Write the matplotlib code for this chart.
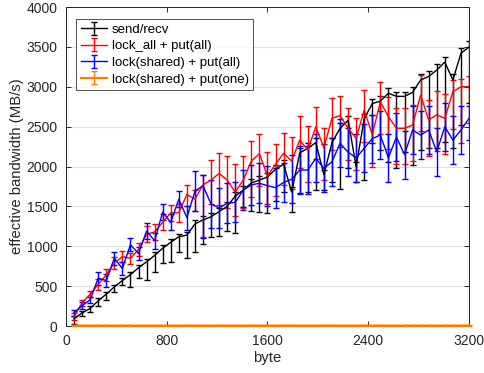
import matplotlib
matplotlib.use("Agg")
import matplotlib.pyplot as plt
import numpy as np

plt.rcParams['font.family'] = ['Liberation Sans', 'DejaVu Sans']

# message sizes in bytes (64 .. 3200)
msg_bytes = [64, 128, 192, 256, 320, 384, 448, 512, 576, 640,
             704, 768, 832, 896, 960, 1024, 1088, 1152, 1216, 1280,
             1344, 1408, 1472, 1536, 1600, 1664, 1728, 1792, 1856, 1920,
             1984, 2048, 2112, 2176, 2240, 2304, 2368, 2432, 2496, 2560,
             2624, 2688, 2752, 2816, 2880, 2944, 3008, 3072, 3136, 3200]

# send/recv
sr_bw = [90, 165, 220, 315, 400, 490, 570, 645, 730, 805,
         885, 975, 1050, 1120, 1140, 1280, 1330, 1370, 1435, 1500,
         1630, 1705, 1795, 1830, 1870, 1965, 2030, 1680, 2170, 2230,
         2300, 1900, 2300, 2480, 2580, 2000, 2600, 2790, 2820, 2920,
         2880, 2880, 2930, 3085, 3130, 3210, 3310, 3085, 3420, 3500]
sr_lo = [60, 40, 40, 60, 80, 60, 60, 150, 130, 230,
         210, 190, 250, 190, 290, 350, 300, 250, 300, 310,
         460, 210, 350, 400, 450, 400, 350, 250, 500, 550,
         600, 200, 500, 760, 600, 190, 770, 500, 610, 860,
         900, 700, 910, 880, 900, 980, 1000, 850, 900, 700]
sr_hi = [30, 25, 25, 30, 30, 30, 30, 35, 35, 40,
         40, 40, 40, 40, 45, 45, 45, 45, 50, 50,
         50, 50, 50, 50, 50, 55, 55, 60, 60, 60,
         60, 60, 60, 60, 60, 60, 60, 60, 60, 60,
         60, 60, 70, 70, 70, 70, 70, 70, 70, 70]

# lock_all + put(all)
la_bw = [120, 290, 400, 520, 640, 790, 870, 850, 960, 1150,
         1180, 1300, 1420, 1420, 1650, 1590, 1770, 1830, 1914, 1830,
         1680, 1830, 2070, 2160, 1880, 2030, 2165, 2070, 2332, 2207,
         2499, 2235, 2604, 2640, 2480, 2353, 2709, 2400, 2813, 2625,
         2480, 2480, 2520, 2897, 2583, 2650, 2604, 2938, 3001, 3001]
la_lo = [40, 40, 40, 70, 70, 70, 70, 70, 80, 100,
         100, 100, 100, 110, 150, 150, 650, 300, 400, 350,
         300, 350, 450, 400, 350, 400, 400, 350, 350, 400,
         400, 400, 400, 400, 400, 400, 400, 400, 400, 400,
         450, 450, 450, 450, 450, 450, 450, 470, 700, 450]
la_hi = [40, 40, 40, 70, 70, 70, 70, 70, 80, 100,
         100, 100, 100, 110, 120, 120, 130, 250, 250, 300,
         350, 300, 250, 250, 300, 250, 250, 300, 300, 300,
         250, 250, 250, 250, 250, 250, 250, 250, 250, 250,
         250, 250, 250, 250, 250, 300, 300, 150, 100, 130]

# lock(shared) + put(all)
ls_bw = [165, 255, 330, 600, 570, 850, 720, 1020, 910, 1190,
         1070, 1430, 1300, 1590, 1360, 1690, 1760, 1530, 1480, 1540,
         1550, 1705, 1770, 1790, 1760, 1735, 1800, 1840, 1956, 1956,
         2103, 1977, 2060, 2291, 2180, 2110, 2230, 2350, 2395, 2110,
         2370, 2150, 2458, 2395, 2458, 2186, 2499, 2332, 2458, 2604]
ls_lo = [40, 40, 40, 80, 80, 80, 80, 80, 80, 100,
         100, 100, 100, 100, 150, 250, 650, 300, 250, 250,
         250, 250, 250, 250, 250, 250, 250, 300, 300, 300,
         300, 300, 300, 300, 300, 300, 300, 300, 300, 300,
         300, 300, 300, 300, 300, 300, 300, 300, 300, 270]
ls_hi = [40, 40, 40, 80, 80, 80, 80, 80, 80, 100,
         100, 100, 100, 100, 150, 250, 130, 300, 250, 250,
         250, 250, 250, 250, 250, 250, 250, 300, 300, 300,
         300, 300, 300, 300, 300, 300, 300, 300, 300, 300,
         300, 300, 300, 300, 300, 300, 300, 300, 300, 150]

# lock(shared) + put(one)
lo_bw = [4, 4, 5, 4, 5, 5, 4, 5, 5, 4,
         5, 5, 4, 5, 5, 5, 4, 5, 5, 5,
         4, 5, 5, 5, 4, 5, 5, 5, 5, 4,
         5, 5, 5, 5, 4, 5, 5, 5, 5, 5,
         4, 5, 5, 5, 5, 5, 4, 5, 5, 5]
lo_err = [3] * 50

fig = plt.figure(figsize=(4.85, 3.73), dpi=100)
ax = fig.add_axes([0.136, 0.126, 0.831, 0.855])

ink = (0.15, 0.15, 0.15)
common = dict(lw=1.0, elinewidth=1.0, capsize=2.3, capthick=1.0)
ax.errorbar(msg_bytes, sr_bw, yerr=[sr_lo, sr_hi], color='black',
            label='send/recv', **common)
ax.errorbar(msg_bytes, la_bw, yerr=[la_lo, la_hi], color=(1, 0, 0),
            label='lock_all + put(all)', **common)
ax.errorbar(msg_bytes, ls_bw, yerr=[ls_lo, ls_hi], color=(0, 0, 1),
            label='lock(shared) + put(all)', **common)
eb = ax.errorbar(msg_bytes, lo_bw, yerr=lo_err, color=(1, 0.5, 0),
                 label='lock(shared) + put(one)', lw=1.6, elinewidth=1.0,
                 capsize=2.3, capthick=1.0, zorder=5)
for art in eb.get_children():
    art.set_clip_on(False)

ax.set_xlim(0, 3200)
ax.set_ylim(0, 4000)
ax.set_xticks([0, 800, 1600, 2400, 3200])
ax.set_yticks(np.arange(0, 4001, 500))
ax.yaxis.grid(True, color=(0.88, 0.88, 0.88), lw=0.8)
ax.set_axisbelow(True)

ax.tick_params(direction='in', length=3.5, width=0.7, top=True, right=True,
               labelsize=10, colors=ink, labelcolor=ink)
ax.tick_params(axis='x', pad=6)
ax.tick_params(axis='y', pad=6)
for s in ax.spines.values():
    s.set_color(ink)
    s.set_linewidth(0.7)

ax.set_xlabel('byte', fontsize=10.7, color=ink, labelpad=2)
ax.set_ylabel('effective bandwidth (MB/s)', fontsize=10.7, color=ink, labelpad=2)

leg = ax.legend(loc='upper left', fontsize=9.5, frameon=True, fancybox=False,
                edgecolor=ink, borderpad=0.35, labelspacing=0.33,
                handlelength=2.0, handletextpad=0.35, borderaxespad=0,
                bbox_to_anchor=(0.025, 0.963))
leg.get_frame().set_linewidth(0.7)
for t in leg.get_texts():
    t.set_color('black')

fig.savefig('out.png', dpi=100)
